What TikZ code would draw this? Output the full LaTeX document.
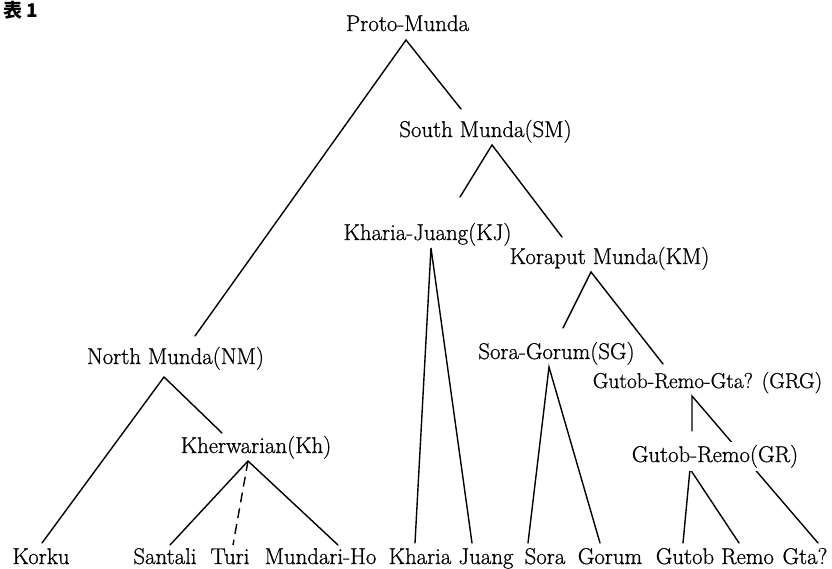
\documentclass[tikz,border=0pt]{standalone}
\usepackage{fontspec}
\newfontfamily\cjkfont{Noto Sans CJK JP}
\newfontfamily\lblfont{Latin Modern Roman}[FakeBold=0.8]
\begin{document}
\begin{tikzpicture}[x=1pt,y=-1pt,
  lbl/.style={anchor=base, inner sep=0pt, font=\lblfont\fontsize{22.8}{26}\selectfont},
  edge/.style={draw=black, line width=1.4pt, line cap=round},
  dashededge/.style={edge, line cap=butt, dash pattern=on 10pt off 6pt}]
\useasboundingbox (0,0) rectangle (832,568);
% branch points and line ends
\coordinate (pmA) at (406,40);
\coordinate (nmT) at (195,336);
\coordinate (smT) at (461,109);
\coordinate (smA) at (492,145);
\coordinate (kjT) at (460,197);
\coordinate (kmT) at (562,237);
\coordinate (kjA) at (431,248);
\coordinate (khariaT) at (415,543);
\coordinate (juangT) at (472,543);
\coordinate (kmA) at (591,272);
\coordinate (sgT) at (563,328);
\coordinate (grgT) at (663,364);
\coordinate (sgA) at (549,367);
\coordinate (soraT) at (528,543);
\coordinate (gorumT) at (600,543);
\coordinate (grgA) at (692,396);
\coordinate (grT) at (692,431);
\coordinate (gtaT) at (818,543);
\coordinate (grA) at (690,469);
\coordinate (gutobT) at (683,543);
\coordinate (remoT) at (739,543);
\coordinate (nmA) at (164,377);
\coordinate (korkuT) at (42,543);
\coordinate (khT) at (222,433);
\coordinate (khA) at (248,461);
\coordinate (santaliT) at (170,545);
\coordinate (turiT) at (233,545);
\coordinate (mundariT) at (338,545);
% connectors
\draw[edge] (nmT) -- (pmA) -- (smT);
\draw[edge] (kjT) -- (smA) -- (kmT);
\draw[edge] (khariaT) -- (kjA) -- (juangT);
\draw[edge] (sgT) -- (kmA) -- (grgT);
\draw[edge] (soraT) -- (sgA) -- (gorumT);
\draw[edge] (grT) -- (grgA) -- (gtaT);
\draw[edge] (gutobT) -- (grA) -- (remoT);
\draw[edge] (korkuT) -- (nmA) -- (khT);
\draw[edge] (santaliT) -- (khA) -- (mundariT);
\draw[dashededge] (khA) -- (turiT);
% labels
\node[anchor=base west, inner sep=0pt, font={\cjkfont\bfseries\fontsize{19}{22}\selectfont}] (title) at (3,17) {表 1};
\node[lbl] (pm) at (407.5,31) {Proto-Munda};
\node[lbl] (sm) at (485.5,137) {South Munda(SM)};
\node[lbl] (kj) at (427.5,240) {Kharia-Juang(KJ)};
\node[lbl] (km) at (609.5,264) {Koraput Munda(KM)};
\node[lbl] (sg) at (556.5,359) {Sora-Gorum(SG)};
\node[lbl, font=\lblfont\fontsize{21.5}{25}\selectfont] (grg) at (707.5,388) {Gutob-Remo-Gta? (GRG)};
\node[lbl, fill=white, inner xsep=2pt, inner ysep=3pt] (gr) at (715,462) {Gutob-Remo(GR)};
\node[lbl] (nm) at (175.5,364) {North Munda(NM)};
\node[lbl] (kh) at (256,453) {Kherwarian(Kh)};
\node[lbl] (korku) at (41,564) {Korku};
\node[lbl] (santali) at (165,564) {Santali};
\node[lbl] (turi) at (230,564) {Turi};
\node[lbl] (mundari) at (320.5,564) {Mundari-Ho};
\node[lbl] (kharia) at (420,564) {Kharia};
\node[lbl] (juang) at (486,564) {Juang};
\node[lbl] (sora) at (545,564) {Sora};
\node[lbl] (gorum) at (610,564) {Gorum};
\node[lbl] (gutob) at (685,564) {Gutob};
\node[lbl] (remo) at (747.5,564) {Remo};
\node[lbl] (gta) at (805,564) {Gta?};
\end{tikzpicture}
\end{document}
